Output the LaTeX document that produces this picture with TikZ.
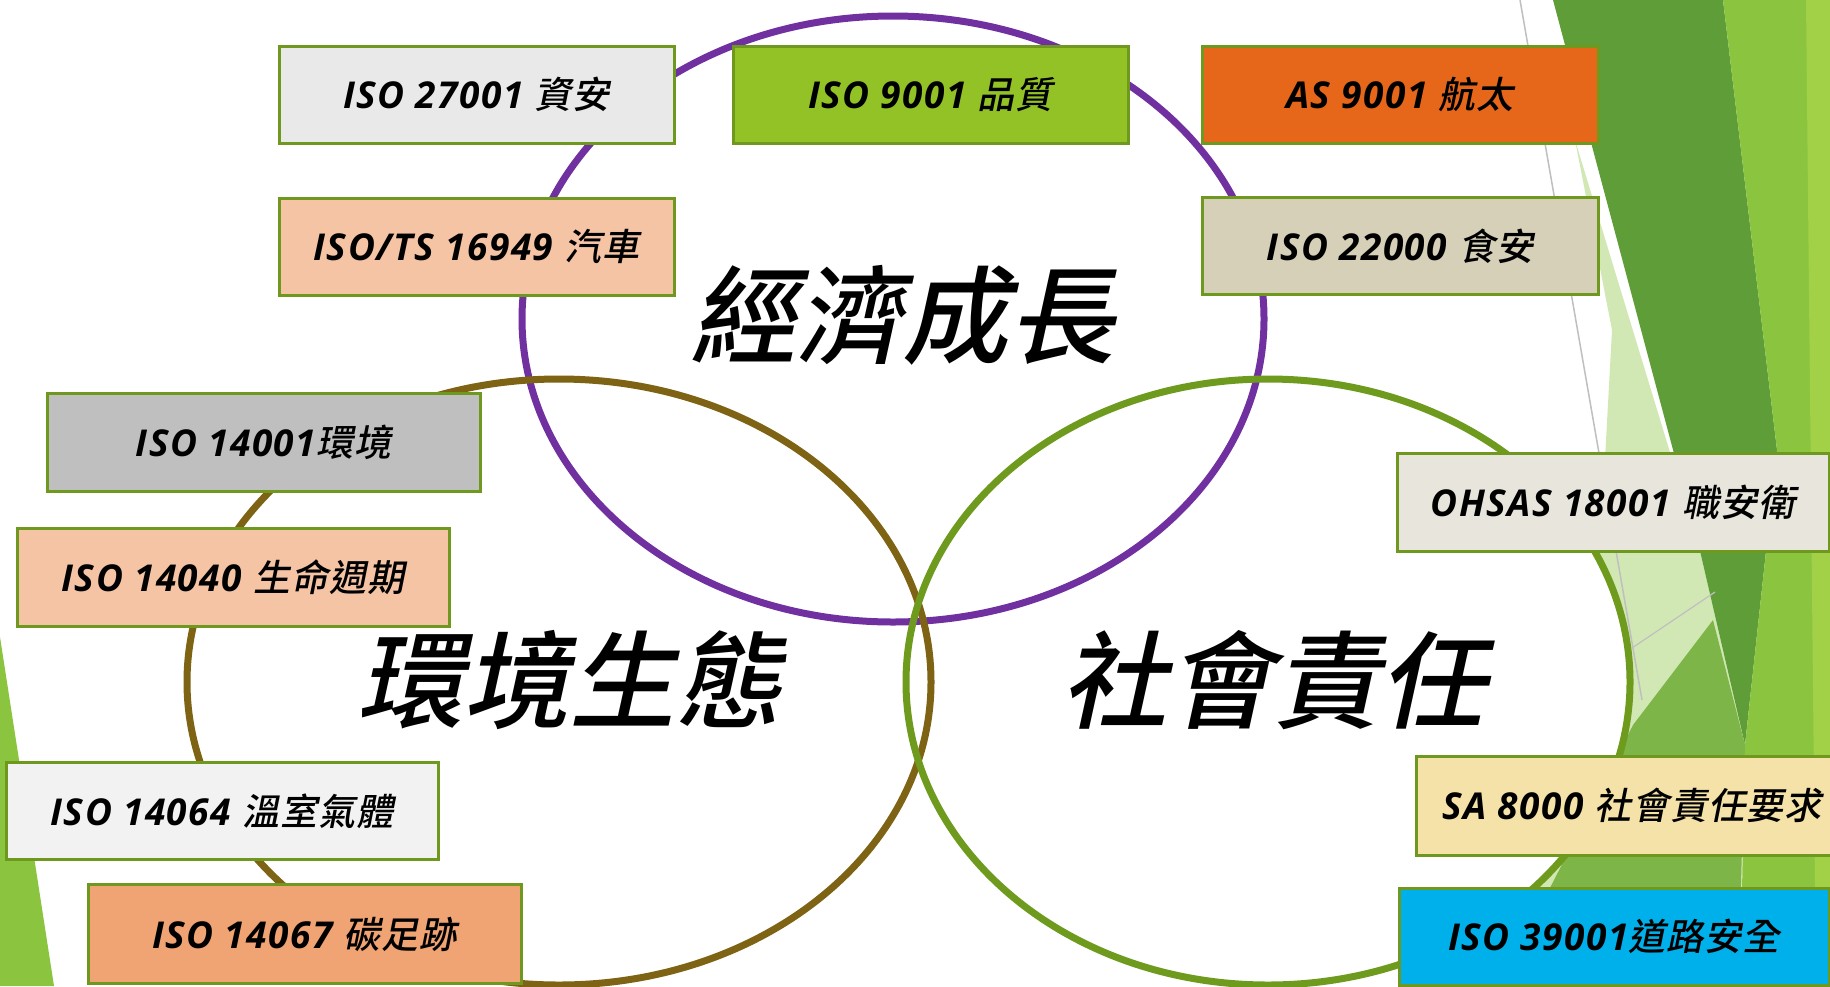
\documentclass[tikz,border=0pt]{standalone}
\usepackage{fontspec}
\newfontfamily\cjk{Noto Sans CJK TC Medium}[FakeSlant=0.2, LetterSpace=3]
\newfontfamily\cjkm{Noto Sans CJK TC Medium}[FakeSlant=0.22]
\newfontfamily\lat{Open Sans}[LetterSpace=4]
\definecolor{boxline}{HTML}{6F981F}
\definecolor{purpleline}{HTML}{7030A0}
\definecolor{brownline}{HTML}{7D6313}
\definecolor{greenline}{HTML}{6E9A1E}
\definecolor{bgbright}{HTML}{8BC53F}
\definecolor{bgdark}{HTML}{5E9D38}
\definecolor{bgpale}{HTML}{D2E8B4}
\definecolor{bgmid}{HTML}{7DB548}
\definecolor{bgstrip}{HTML}{A2D147}
\definecolor{fgray}{HTML}{E9E9E9}
\definecolor{fpeach}{HTML}{F5C4A5}
\definecolor{flime}{HTML}{93C226}
\definecolor{forange}{HTML}{E6661A}
\definecolor{ftan}{HTML}{D6D0B8}
\definecolor{fsilver}{HTML}{BFBFBF}
\definecolor{fwhite}{HTML}{F2F2F2}
\definecolor{fsalmon}{HTML}{F0A373}
\definecolor{fivory}{HTML}{E8E6DC}
\definecolor{fcream}{HTML}{F4E2A8}
\definecolor{fsky}{HTML}{00B0EA}
\newcommand{\lb}[2]{{\lat\bfseries\itshape #1}{\cjk #2}}
\tikzset{
  stdbox/.style={draw=boxline, line width=3pt, inner sep=0pt,
    minimum height=97pt, font=\fontsize{37}{40}\selectfont},
  bigtext/.style={font=\cjkm\fontsize{106}{112}\selectfont, inner sep=0pt},
  ring/.style={line width=7pt}
}
\begin{document}
\begin{tikzpicture}[x=1pt,y=-1pt]
\useasboundingbox (0,0) rectangle (1830,986);
\fill[white] (0,0) rectangle (1830,986);
% background decoration
\fill[bgbright] (0,637) -- (54,986) -- (0,986) -- cycle;
\fill[bgpale] (1575,140) -- (1700,551) -- (1745,745) -- (1740,986) -- (1460,986) -- (1600,551) -- (1612,330) -- cycle;
\fill[bgdark] (1553,0) -- (1723,0) -- (1777,450) -- (1745,745) -- (1700,551) -- cycle;
\fill[bgbright] (1723,0) -- (1830,0) -- (1830,986) -- (1740,986) -- (1745,745) -- (1777,450) -- cycle;
\fill[bgstrip] (1806,0) -- (1830,0) -- (1830,986) -- (1816,986) -- cycle;
\fill[bgmid] (1633,725) -- (1713,620) -- (1745,745) -- (1738,986) -- (1500,986) -- cycle;
\draw[black!25, line width=1.5pt] (1520,0) -- (1642,700);
\draw[black!25, line width=1.2pt] (1632,648) -- (1715,592);
% circles
\fill[white] (1268,682) ellipse [x radius=362, y radius=303];
\draw[ring, purpleline] (893,319) ellipse [x radius=371, y radius=303];
\draw[ring, brownline] (559,682) ellipse [x radius=372, y radius=303];
\draw[ring, greenline] (1268,682) ellipse [x radius=362, y radius=303];
% boxes
\node[stdbox, fill=fgray,   minimum width=395pt] (b1) at (476.5,94.5) {\lb{ISO 27001 }{資安}};
\node[stdbox, fill=fpeach,  minimum width=395pt] (b2) at (476.5,246.5) {\lb{ISO/TS 16949 }{汽車}};
\node[stdbox, fill=flime,   minimum width=395pt] (b3) at (930.5,94.5) {\lb{ISO 9001 }{品質}};
\node[stdbox, fill=forange, minimum width=396pt] (b4) at (1400,94.5) {\lb{AS 9001 }{航太}};
\node[stdbox, fill=ftan,    minimum width=396pt] (b5) at (1400,246) {\lb{ISO 22000 }{食安}};
\node[stdbox, fill=fsilver, minimum width=433pt, minimum height=98pt] (b6) at (263.5,442) {\lb{ISO 14001}{環境}};
\node[stdbox, fill=fpeach,  minimum width=432pt, minimum height=98pt] (b7) at (233,577) {\lb{ISO 14040 }{生命週期}};
\node[stdbox, fill=fwhite,  minimum width=432pt] (b8) at (222,811) {\lb{ISO 14064 }{溫室氣體}};
\node[stdbox, fill=fsalmon, minimum width=433pt, minimum height=99pt] (b9) at (304.5,934) {\lb{ISO 14067 }{碳足跡}};
\node[stdbox, fill=fivory,  minimum width=432pt, minimum height=98pt] (b10) at (1613,502) {\lb{OHSAS 18001 }{職安衛}};
\node[stdbox, fill=fcream,  minimum width=432pt, minimum height=99pt] (b11) at (1632,805.5) {\lb{SA 8000 }{社會責任要求}};
\node[stdbox, fill=fsky,    minimum width=430pt] (b12) at (1614,936.5) {\lb{ISO 39001}{道路安全}};
% big labels
\node[bigtext] (t1) at (902,315) {經濟成長};
\node[bigtext] (t2) at (569,680) {環境生態};
\node[bigtext] (t3) at (1273,680) {社會責任};
\end{tikzpicture}
\end{document}
